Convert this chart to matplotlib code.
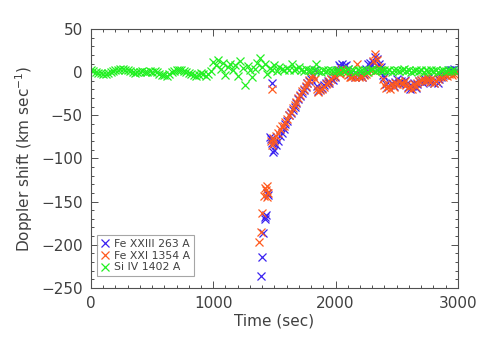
import numpy as np
import matplotlib.pyplot as plt
from matplotlib.ticker import MultipleLocator

# Si IV 1402 A, 20 s cadence from t=0
si4_time = np.arange(0, 3000, 20)
si4_shift = [
    2, 1, 0, -1, -1, -2, -2, -1, 0, 1,
    2, 3, 4, 4, 3, 2, 1, 0, -1, 0,
    0, 1, 0, 0, 1, 0, 1, 0, -2, -3,
    -3, -4, -2, 0, 1, 2, 3, 2, 1, 0,
    -1, -2, -3, -4, -3, -1, -2, -4, -2, 1,
    12, 8, 14, 4, 11, -3, 6, 10, 2, 8,
    -4, 13, 5, -15, 7, 2, -6, 4, 11, 16,
    6, 10, -2, 5, 3, 8, 1, 6, 4, 2,
    5, 3, 9, 2, 4, 6, 3, 1, 4, 2,
    3, 2, 9, 1, 0, 3, 1, 3, 2, 1,
    1, 3, 0, 2, 1, 4, 1, 2, 0, 2,
    1, 3, 2, 0, 2, 4, 1, 3, 2, 1,
    3, 1, 2, 0, 2, 3, 1, 2, 4, 1,
    2, 0, 1, 3, 1, 2, 0, 2, 1, 3,
    1, 2, 0, 1, 3, 1, 2, 1, 2, 1,
]

# Fe lines: irregular start of the flare, then 15 s cadence
fe_late_time = np.arange(1500, 3000, 15)

fe23_early_time = [1388, 1396, 1410, 1420, 1426, 1432, 1438, 1444, 1462, 1470, 1478, 1484, 1492]
fe23_early_shift = [-236, -214, -186, -168, -170, -166, -140, -142, -75, -78, -12, -82, -93]
fe23_late_shift = [
    -90, -84, -80, -74, -70, -66, -60, -56, -50, -47,
    -44, -40, -36, -31, -28, -24, -21, -17, -13, -10,
    -8, -4, 2, -16, -22, -20, -18, -15, -13, -10,
    -12, -8, -9, -5, 3, 8, 6, 9, 7, 8,
    4, -2, -4, -3, -5, -2, -4, -3, -5, -2,
    4, 9, 11, 8, 12, 18, 15, 10, 6, -3,
    -6, -14, -17, -15, -13, -16, -11, -8, -12, -10,
    -13, -9, -14, -17, -19, -16, -12, -18, -14, -10,
    -9, -12, -8, -10, -7, -9, -11, -12, -10, -12,
    -8, -5, -3, -2, 0, 2, 3, 2, 4, 3,
]

fe21_early_time = [1376, 1388, 1396, 1418, 1424, 1430, 1436, 1442, 1448, 1470, 1478, 1484, 1490]
fe21_early_shift = [-197, -185, -163, -143, -134, -137, -132, -145, -140, -80, -19, -84, -76]
fe21_late_shift = [
    -80, -74, -70, -66, -62, -62, -58, -54, -50, -46,
    -42, -38, -34, -30, -26, -22, -20, -16, -12, -9,
    -6, -3, -8, -20, -23, -21, -19, -17, -14, -12,
    -10, -8, -6, -4, 0, 2, -2, 4, 1, -1,
    -3, -5, -6, -4, -5, 10, -6, -4, -6, -3,
    -2, 0, 3, 2, 13, 21, 14, 6, 2, -8,
    -15, -18, -16, -19, -14, -17, -12, -14, -10, -13,
    -14, -10, -15, -18, -16, -20, -14, -17, -12, -10,
    -9, -8, -10, -6, -9, -11, -7, -12, -10, -8,
    -6, -4, -5, -3, -4, -2, -1, -3, -2, -1,
]

fe23_time = np.concatenate([fe23_early_time, fe_late_time])
fe23_shift = np.concatenate([fe23_early_shift, fe23_late_shift])
fe21_time = np.concatenate([fe21_early_time, fe_late_time])
fe21_shift = np.concatenate([fe21_early_shift, fe21_late_shift])

gray = '#505050'
plt.rcParams['font.family'] = 'DejaVu Sans'

fig = plt.figure(figsize=(4.85, 3.46), dpi=100)
ax = fig.add_axes([0.1876, 0.168, 0.7564, 0.748])

ms = 6
mew = 0.9
ax.plot(fe23_time, fe23_shift, 'x', color='#3a22f0', ms=ms, mew=mew, label='Fe XXIII 263 A')
ax.plot(fe21_time, fe21_shift, 'x', color='#ff5a1e', ms=ms, mew=mew, label='Fe XXI 1354 A')
ax.plot(si4_time, si4_shift, 'x', color='#22f022', ms=ms, mew=mew, label='Si IV 1402 A')

ax.set_xlim(0, 3000)
ax.set_ylim(-250, 50)
ax.xaxis.set_major_locator(MultipleLocator(1000))
ax.xaxis.set_minor_locator(MultipleLocator(100))
ax.yaxis.set_major_locator(MultipleLocator(50))
ax.yaxis.set_minor_locator(MultipleLocator(10))
ax.tick_params(which='both', direction='in', top=True, right=True, color=gray,
               labelcolor='#404040', labelsize=11, width=0.7)
ax.tick_params(which='major', length=5, pad=6)
ax.tick_params(which='minor', length=2.5)
for sp in ax.spines.values():
    sp.set_color(gray)
    sp.set_linewidth(0.8)

ax.set_xlabel('Time (sec)', fontsize=11, color='#404040', labelpad=2)
ax.set_ylabel('Doppler shift (km sec$^{-1}$)', fontsize=11, color='#404040', labelpad=4)

leg = ax.legend(loc='lower left', bbox_to_anchor=(0.016, 0.045), borderaxespad=0,
                fontsize=7.8, frameon=True, fancybox=False, markerscale=0.85,
                handlelength=0.8, handletextpad=0.4, borderpad=0.35, labelspacing=0.15,
                labelcolor='#404040')
leg.get_frame().set_edgecolor('#909090')
leg.get_frame().set_linewidth(0.8)

fig.savefig('out.png', dpi=100)
